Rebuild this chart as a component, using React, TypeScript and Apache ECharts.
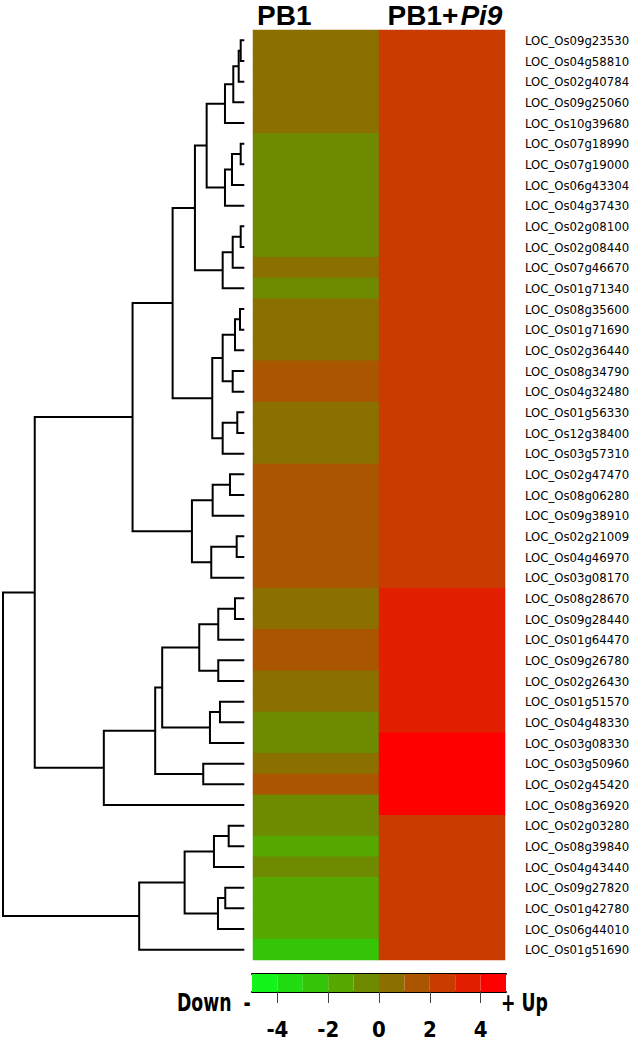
import React, { useEffect, useRef } from "react";
import * as echarts from "echarts";

const genes = [
  "LOC_Os09g23530", "LOC_Os04g58810", "LOC_Os02g40784", "LOC_Os09g25060", "LOC_Os10g39680",
  "LOC_Os07g18990", "LOC_Os07g19000", "LOC_Os06g43304", "LOC_Os04g37430", "LOC_Os02g08100",
  "LOC_Os02g08440", "LOC_Os07g46670", "LOC_Os01g71340", "LOC_Os08g35600", "LOC_Os01g71690",
  "LOC_Os02g36440", "LOC_Os08g34790", "LOC_Os04g32480", "LOC_Os01g56330", "LOC_Os12g38400",
  "LOC_Os03g57310", "LOC_Os02g47470", "LOC_Os08g06280", "LOC_Os09g38910", "LOC_Os02g21009",
  "LOC_Os04g46970", "LOC_Os03g08170", "LOC_Os08g28670", "LOC_Os09g28440", "LOC_Os01g64470",
  "LOC_Os09g26780", "LOC_Os02g26430", "LOC_Os01g51570", "LOC_Os04g48330", "LOC_Os03g08330",
  "LOC_Os03g50960", "LOC_Os02g45420", "LOC_Os08g36920", "LOC_Os02g03280", "LOC_Os08g39840",
  "LOC_Os04g43440", "LOC_Os09g27820", "LOC_Os01g42780", "LOC_Os06g44010", "LOC_Os01g51690",
];

const conditions = ["PB1", "PB1+Pi9"];

const pb1Values = [
  0.6, 0.5, 0.7, 0.6, 0.4,
  -0.6, -0.5, -0.7, -0.4, -0.6,
  -0.5, 0.5, -0.6, 0.7, 0.6,
  0.8, 1.4, 1.3, 0.6, 0.5,
  0.7, 1.5, 1.4, 1.6, 1.3,
  1.5, 1.4, 0.8, 0.7, 1.2,
  1.3, 0.6, 0.7, -0.6, -0.4,
  0.5, 1.3, -0.5, -0.7, -1.5,
  -0.6, -1.4, -1.6, -1.5, -2.4,
];

const pi9Values = [
  2.5, 2.6, 2.5, 2.4, 2.6,
  2.5, 2.4, 2.6, 2.5, 2.5,
  2.6, 2.4, 2.5, 2.6, 2.5,
  2.4, 2.5, 2.6, 2.5, 2.4,
  2.5, 2.6, 2.5, 2.4, 2.5,
  2.6, 2.5, 3.5, 3.4, 3.6,
  3.5, 3.4, 3.5, 3.6, 4.5,
  4.6, 4.4, 4.5, 2.5, 2.6,
  2.4, 2.5, 2.6, 2.5, 2.4,
];

// hierarchical clustering: [childA, childB, mergeHeight]; ids >= genes.length are earlier merges
const linkage: [number, number, number][] = [
  [0, 1, 0.36], [45, 2, 0.56], [46, 3, 1.1], [47, 4, 1.93],
  [5, 6, 0.36], [49, 7, 1.23], [50, 8, 1.93], [48, 51, 3.76],
  [9, 10, 0.36], [53, 11, 1.16], [54, 12, 2.16], [52, 55, 4.93],
  [13, 14, 0.43], [57, 15, 0.93], [16, 17, 1.16], [58, 59, 2.16],
  [18, 19, 0.7], [61, 20, 2.16], [60, 62, 3.2], [56, 63, 7.16],
  [21, 22, 1.43], [65, 23, 3.16], [24, 25, 0.76], [67, 26, 3.3],
  [66, 68, 5.23], [64, 69, 11.16],
  [27, 28, 0.93], [71, 29, 2.6], [30, 31, 2.6], [72, 73, 4.5],
  [32, 33, 2.43], [75, 34, 3.43], [74, 76, 8.2], [35, 36, 4.1],
  [77, 78, 8.9], [79, 37, 14.03], [70, 80, 20.93],
  [38, 39, 1.56], [82, 40, 3.03], [41, 42, 1.9], [84, 43, 2.63],
  [83, 85, 5.96], [86, 44, 10.5], [81, 87, 24.1],
];

const legendEdges = [-5, -4, -3, -2, -1, 0, 1, 2, 3, 4, 5];
const legendColors = [
  "#12F41A", "#22DC12", "#35C508", "#55A800", "#6E8A00",
  "#8B7000", "#AA5500", "#C83C00", "#E22000", "#FF0000",
];
const legendTicks = [-4, -2, 0, 2, 4];
const legendEnds = ["Down  -", "+ Up"];

const NARROW = '"Liberation Sans Narrow", "Arial Narrow", "DejaVu Sans Condensed", sans-serif';
const SANS = '"Liberation Sans", Arial, sans-serif';

function buildDendrogram() {
  const pos: number[] = genes.map((_, i) => i);
  const hgt: number[] = genes.map(() => 0);
  const segs: number[][] = [];
  linkage.forEach(([a, b, h]) => {
    segs.push([pos[a], pos[b], h, hgt[a], hgt[b]]);
    pos.push((pos[a] + pos[b]) / 2);
    hgt.push(h);
  });
  return segs;
}

export default function App() {
  const ref = useRef<HTMLDivElement>(null);

  useEffect(() => {
    if (!ref.current) return;
    const chart = echarts.init(ref.current, undefined, { renderer: "svg" });

    const heatData: number[][] = [];
    genes.forEach((_, i) => {
      heatData.push([0, i, pb1Values[i]]);
      heatData.push([1, i, pi9Values[i]]);
    });
    const maxH = Math.max(...linkage.map((l) => l[2]));
    const barData = legendColors.map((_, i) => [
      legendEdges[i],
      legendEdges[i + 1],
      (legendEdges[i] + legendEdges[i + 1]) / 2,
    ]);

    chart.setOption({
      animation: false,
      backgroundColor: "#fff",
      grid: [
        { left: 253, top: 30, width: 252, height: 930, outerBoundsMode: "none", containLabel: false },
        { left: 3, top: 30, width: 241.3, height: 930, outerBoundsMode: "none", containLabel: false },
        { left: 252, top: 974, width: 254, height: 18, outerBoundsMode: "none", containLabel: false },
      ],
      xAxis: [
        {
          gridIndex: 0,
          type: "category",
          data: conditions,
          position: "top",
          axisLine: { show: false },
          axisTick: { show: false },
          axisLabel: {
            margin: 1,
            interval: 0,
            formatter: (v: string) => {
              if (v.includes("+")) {
                const p = v.split("+");
                return `{a|${p[0]}+}{b|${p[1]}}`;
              }
              return `{l|${v}}`;
            },
            rich: {
              l: { width: 118, align: "left", fontSize: 28, fontWeight: "bold", fontFamily: SANS, color: "#000" },
              a: { fontSize: 28, fontWeight: "bold", fontFamily: SANS, color: "#000", padding: [0, 2, 0, 6] },
              b: { fontSize: 28, fontWeight: "bold", fontStyle: "italic", fontFamily: SANS, color: "#000" },
            },
          },
        },
        { gridIndex: 1, type: "value", min: 0, max: maxH, inverse: true, show: false },
        {
          gridIndex: 2,
          type: "value",
          min: -5,
          max: 5,
          position: "bottom",
          splitLine: { show: false },
          axisLine: { show: true, lineStyle: { color: "#000", width: 2 } },
          axisTick: { show: true, customValues: legendTicks, length: 11, lineStyle: { color: "#444", width: 1 } },
          axisLabel: {
            customValues: legendTicks,
            margin: 27,
            fontSize: 22,
            lineHeight: 20,
            fontWeight: "bold",
            fontFamily: NARROW,
            color: "#000",
          },
        },
        {
          gridIndex: 2,
          type: "value",
          min: -5,
          max: 5,
          position: "top",
          splitLine: { show: false },
          axisLine: { show: true, lineStyle: { color: "#000", width: 2 } },
          axisTick: { show: false },
          axisLabel: { show: false },
        },
      ],
      yAxis: [
        {
          gridIndex: 0,
          type: "category",
          data: genes,
          inverse: true,
          position: "right",
          axisLine: { show: false },
          axisTick: { show: false },
          axisLabel: {
            interval: 0,
            margin: 20,
            fontSize: 13,
            fontFamily: NARROW,
            color: "#000",
            padding: [5, 0, 0, 0],
          },
        },
        { gridIndex: 1, type: "value", min: -0.5, max: genes.length - 0.5, inverse: true, show: false },
        { gridIndex: 2, type: "value", min: 0, max: 1, show: false },
      ],
      visualMap: {
        type: "piecewise",
        show: false,
        dimension: 2,
        seriesIndex: [1, 2],
        pieces: legendColors.map((c, i) => ({ min: legendEdges[i], max: legendEdges[i + 1], color: c })),
      },
      graphic: [
        {
          type: "text",
          x: 177,
          y: 1002.5,
          scaleX: 0.8,
          style: {
            text: legendEnds[0],
            font: `bold 24px ${NARROW}`,
            textAlign: "left",
            textVerticalAlign: "middle",
            fill: "#000",
          },
        },
        {
          type: "text",
          x: 501,
          y: 1002.5,
          scaleX: 0.8,
          style: {
            text: legendEnds[1],
            font: `bold 24px ${NARROW}`,
            textAlign: "left",
            textVerticalAlign: "middle",
            fill: "#000",
          },
        },
      ],
      series: [
        {
          type: "custom",
          xAxisIndex: 1,
          yAxisIndex: 1,
          data: buildDendrogram(),
          encode: { x: [2, 3, 4], y: [0, 1] },
          renderItem: (_p: any, api: any) => {
            const yA = api.value(0);
            const yB = api.value(1);
            const h = api.value(2);
            const hA = api.value(3);
            const hB = api.value(4);
            return {
              type: "polyline",
              shape: { points: [api.coord([hA, yA]), api.coord([h, yA]), api.coord([h, yB]), api.coord([hB, yB])] },
              style: { stroke: "#000", lineWidth: 2, fill: "none" },
            };
          },
        },
        {
          type: "heatmap",
          xAxisIndex: 0,
          yAxisIndex: 0,
          data: heatData,
          itemStyle: { borderWidth: 0 },
        },
        {
          type: "custom",
          xAxisIndex: 2,
          yAxisIndex: 2,
          data: barData,
          encode: { x: [0, 1] },
          renderItem: (_p: any, api: any) => {
            const p0 = api.coord([api.value(0), 1]);
            const p1 = api.coord([api.value(1), 0]);
            return {
              type: "rect",
              shape: { x: p0[0], y: p0[1], width: p1[0] - p0[0], height: p1[1] - p0[1] },
              style: { fill: api.visual("color") },
            };
          },
        },
      ],
    });

    return () => chart.dispose();
  }, []);

  return (
    <div
      ref={ref}
      style={{ position: "absolute", left: 0, top: 0, width: 630, height: 1041, background: "#fff" }}
    />
  );
}
